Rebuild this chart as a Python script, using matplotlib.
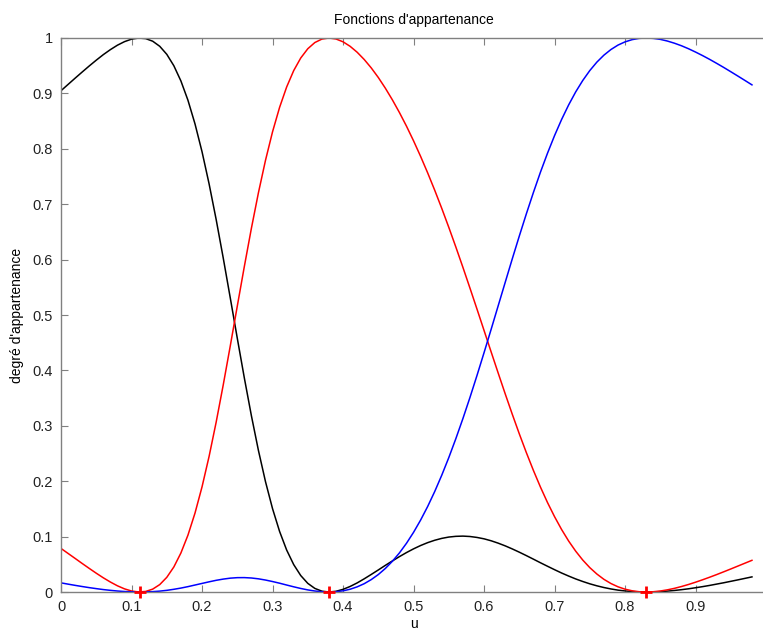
import matplotlib
matplotlib.use("Agg")
import matplotlib.pyplot as plt

plt.rcParams['font.family'] = ['Liberation Sans', 'DejaVu Sans']

# abscisse u (pas de 0.01)
u = [0.00, 0.01, 0.02, 0.03, 0.04, 0.05, 0.06, 0.07, 0.08, 0.09,
     0.10, 0.11, 0.12, 0.13, 0.14, 0.15, 0.16, 0.17, 0.18, 0.19,
     0.20, 0.21, 0.22, 0.23, 0.24, 0.25, 0.26, 0.27, 0.28, 0.29,
     0.30, 0.31, 0.32, 0.33, 0.34, 0.35, 0.36, 0.37, 0.38, 0.39,
     0.40, 0.41, 0.42, 0.43, 0.44, 0.45, 0.46, 0.47, 0.48, 0.49,
     0.50, 0.51, 0.52, 0.53, 0.54, 0.55, 0.56, 0.57, 0.58, 0.59,
     0.60, 0.61, 0.62, 0.63, 0.64, 0.65, 0.66, 0.67, 0.68, 0.69,
     0.70, 0.71, 0.72, 0.73, 0.74, 0.75, 0.76, 0.77, 0.78, 0.79,
     0.80, 0.81, 0.82, 0.83, 0.84, 0.85, 0.86, 0.87, 0.88, 0.89,
     0.90, 0.91, 0.92, 0.93, 0.94, 0.95, 0.96, 0.97, 0.98]

# degre d'appartenance, classe 1 (noir)
mu_noir = [0.9049, 0.9162, 0.9275, 0.9386, 0.9495, 0.9600, 0.9700, 0.9790, 0.9870, 0.9934,
           0.9979, 0.9999, 0.9989, 0.9942, 0.9850, 0.9705, 0.9499, 0.9225, 0.8877, 0.8450,
           0.7946, 0.7367, 0.6725, 0.6033, 0.5311, 0.4580, 0.3863, 0.3182, 0.2554, 0.1992,
           0.1504, 0.1093, 0.0758, 0.0495, 0.0297, 0.0156, 0.0065, 0.0015, 0.0000, 0.0013,
           0.0048, 0.0100, 0.0164, 0.0238, 0.0317, 0.0398, 0.0481, 0.0561, 0.0639, 0.0712,
           0.0779, 0.0839, 0.0891, 0.0934, 0.0968, 0.0992, 0.1005, 0.1009, 0.1002, 0.0985,
           0.0960, 0.0925, 0.0882, 0.0833, 0.0778, 0.0719, 0.0657, 0.0593, 0.0528, 0.0465,
           0.0403, 0.0343, 0.0288, 0.0236, 0.0190, 0.0148, 0.0112, 0.0081, 0.0055, 0.0034,
           0.0019, 0.0008, 0.0002, 0.0000, 0.0002, 0.0007, 0.0016, 0.0028, 0.0042, 0.0058,
           0.0077, 0.0097, 0.0119, 0.0143, 0.0167, 0.0193, 0.0219, 0.0246, 0.0273]

# classe 2 (rouge)
mu_rouge = [0.0786, 0.0696, 0.0606, 0.0515, 0.0426, 0.0339, 0.0256, 0.0180, 0.0112, 0.0057,
            0.0018, 0.0001, 0.0010, 0.0052, 0.0134, 0.0265, 0.0452, 0.0704, 0.1026, 0.1424,
            0.1899, 0.2448, 0.3064, 0.3734, 0.4439, 0.5161, 0.5876, 0.6565, 0.7208, 0.7792,
            0.8307, 0.8748, 0.9115, 0.9411, 0.9639, 0.9806, 0.9918, 0.9980, 1.0000, 0.9982,
            0.9931, 0.9850, 0.9743, 0.9612, 0.9460, 0.9287, 0.9094, 0.8883, 0.8654, 0.8408,
            0.8144, 0.7863, 0.7566, 0.7253, 0.6925, 0.6582, 0.6227, 0.5861, 0.5486, 0.5106,
            0.4721, 0.4336, 0.3954, 0.3577, 0.3210, 0.2855, 0.2516, 0.2195, 0.1894, 0.1615,
            0.1360, 0.1128, 0.0920, 0.0737, 0.0577, 0.0440, 0.0325, 0.0229, 0.0153, 0.0094,
            0.0051, 0.0022, 0.0005, 0.0000, 0.0005, 0.0018, 0.0039, 0.0066, 0.0099, 0.0136,
            0.0177, 0.0221, 0.0267, 0.0315, 0.0365, 0.0416, 0.0468, 0.0520, 0.0572]

# classe 3 (bleu)
mu_bleu = [0.0165, 0.0142, 0.0120, 0.0099, 0.0079, 0.0061, 0.0044, 0.0030, 0.0018, 0.0009,
           0.0003, 0.0000, 0.0001, 0.0007, 0.0016, 0.0030, 0.0049, 0.0071, 0.0097, 0.0126,
           0.0155, 0.0184, 0.0211, 0.0233, 0.0250, 0.0259, 0.0260, 0.0253, 0.0238, 0.0216,
           0.0189, 0.0159, 0.0126, 0.0094, 0.0064, 0.0038, 0.0018, 0.0005, 0.0000, 0.0005,
           0.0021, 0.0050, 0.0093, 0.0150, 0.0224, 0.0315, 0.0425, 0.0555, 0.0706, 0.0880,
           0.1077, 0.1298, 0.1543, 0.1813, 0.2108, 0.2426, 0.2768, 0.3130, 0.3511, 0.3909,
           0.4320, 0.4739, 0.5164, 0.5589, 0.6012, 0.6425, 0.6826, 0.7211, 0.7578, 0.7920,
           0.8238, 0.8529, 0.8792, 0.9027, 0.9233, 0.9412, 0.9564, 0.9690, 0.9792, 0.9872,
           0.9930, 0.9970, 0.9993, 1.0000, 0.9993, 0.9975, 0.9945, 0.9906, 0.9860, 0.9806,
           0.9746, 0.9682, 0.9614, 0.9542, 0.9468, 0.9391, 0.9313, 0.9234, 0.9154]

# centres des classes
centres = [0.112, 0.38, 0.83]
centres_y = [0, 0, 0]

xticks = [0, 0.1, 0.2, 0.3, 0.4, 0.5, 0.6, 0.7, 0.8, 0.9]
xticklabels = ['0', '0.1', '0.2', '0.3', '0.4', '0.5', '0.6', '0.7', '0.8', '0.9']
yticks = [0, 0.1, 0.2, 0.3, 0.4, 0.5, 0.6, 0.7, 0.8, 0.9, 1.0]
yticklabels = ['0', '0.1', '0.2', '0.3', '0.4', '0.5', '0.6', '0.7', '0.8', '0.9', '1']

fig = plt.figure(figsize=(7.63, 6.3), dpi=100)
ax = fig.add_axes([0.080, 0.0603, 0.924, 0.8794])

ax.plot(u, mu_noir, color='black', lw=1.1)
ax.plot(u, mu_rouge, color='#ff0000', lw=1.1)
ax.plot(u, mu_bleu, color='#0000ff', lw=1.1)
ax.plot(centres, centres_y, ls='none', marker='+', color='#ff0000',
        markersize=8, mew=2, clip_on=False, zorder=5)

ax.set_xlim(0, 1)
ax.set_ylim(0, 1)
ax.set_xticks(xticks)
ax.set_xticklabels(xticklabels)
ax.set_yticks(yticks)
ax.set_yticklabels(yticklabels)

for s in ax.spines.values():
    s.set_color('#808080')
    s.set_linewidth(1.0)
ax.spines['right'].set_visible(False)
ax.tick_params(direction='in', length=5, color='#808080', labelsize=10.5,
               labelcolor='#222222', top=True, right=False, pad=6)

ax.set_title("Fonctions d'appartenance", fontsize=10, pad=10)
ax.set_ylabel("degré d'appartenance", fontsize=10, labelpad=6)
ax.set_xlabel("u", fontsize=10, labelpad=2)

fig.savefig("out.png", dpi=100)
